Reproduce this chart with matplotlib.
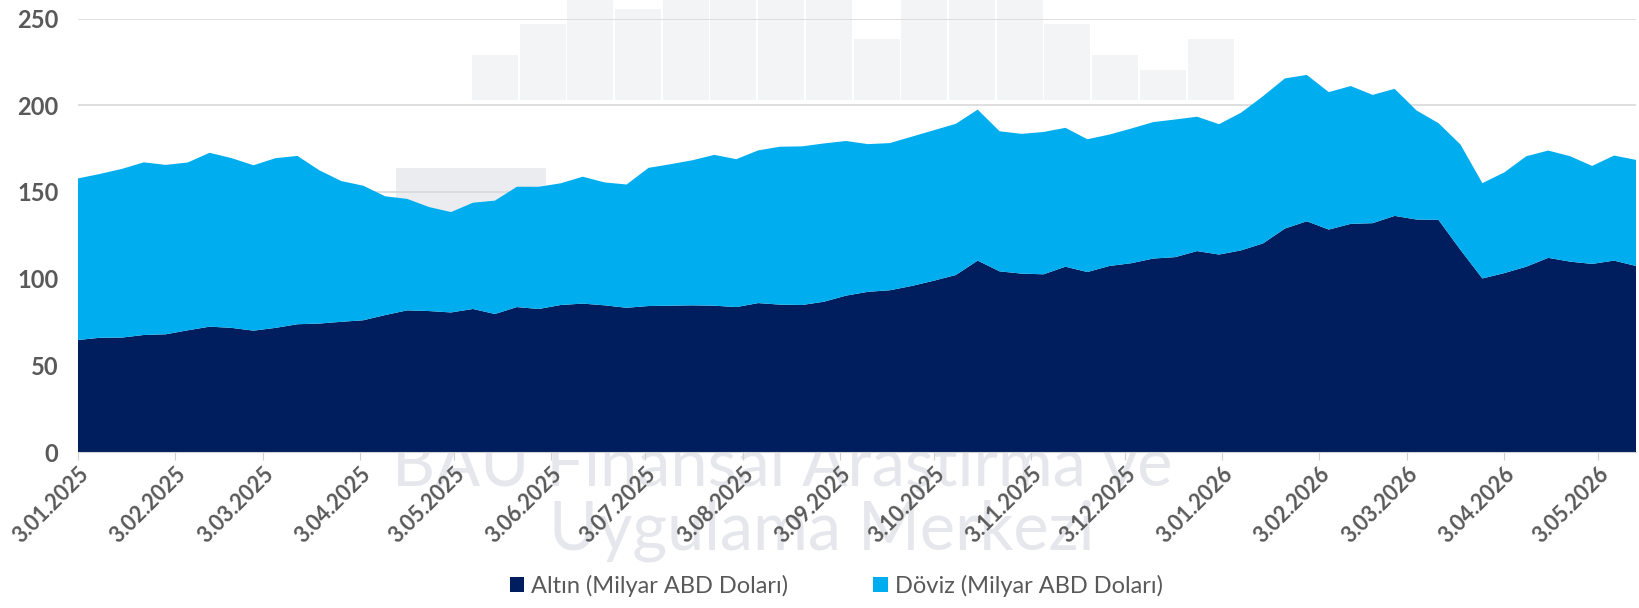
import matplotlib
matplotlib.use("Agg")
import matplotlib.pyplot as plt
import matplotlib.dates as mdates
from matplotlib.patches import Rectangle
import pandas as pd

# haftalık rezerv verisi (milyar ABD doları)
dates = pd.date_range("2025-01-03", periods=72, freq="7D")
altin = [64.6, 65.9, 66.0, 67.5, 67.9, 70.2, 72.3, 71.6, 70.0, 71.6,
         73.7, 74.1, 75.1, 76.0, 79.0, 81.7, 81.3, 80.5, 82.5, 79.6,
         83.6, 82.5, 84.8, 85.6, 84.6, 83.2, 84.2, 84.4, 84.6, 84.4,
         83.6, 85.9, 85.0, 84.8, 86.7, 90.2, 92.4, 93.3, 95.8, 98.8,
         102.1, 110.4, 104.2, 102.9, 102.5, 106.9, 103.8, 107.3, 108.9, 111.6,
         112.4, 115.9, 113.9, 116.3, 120.3, 128.9, 133.1, 128.3, 131.6, 132.0,
         136.2, 134.1, 133.9, 116.6, 100.1, 103.2, 106.9, 112.0, 109.8, 108.5,
         110.4, 107.3]
doviz = [93.2, 94.5, 97.3, 99.6, 97.7, 96.8, 100.3, 97.9, 95.4, 97.9,
         97.1, 88.4, 81.2, 77.6, 68.5, 64.3, 60.0, 57.9, 61.3, 65.4,
         69.4, 70.5, 70.2, 73.2, 70.9, 71.1, 79.7, 81.6, 83.7, 87.0,
         85.3, 88.1, 91.1, 91.5, 91.3, 89.2, 85.2, 84.9, 86.1, 86.8,
         87.2, 87.1, 80.8, 80.6, 82.1, 80.1, 76.6, 75.8, 77.7, 78.7,
         79.4, 77.5, 75.2, 79.4, 84.9, 86.6, 84.4, 79.3, 79.5, 74.0,
         73.3, 62.9, 55.8, 60.8, 55.0, 58.1, 63.7, 61.9, 60.8, 56.5,
         60.6, 61.2]
labels = ["Altın (Milyar ABD Doları)", "Döviz (Milyar ABD Doları)"]
colors = ["#001E5E", "#00AEEF"]

plt.rcParams["font.family"] = ["Lato", "DejaVu Sans"]
plt.rcParams["font.weight"] = "bold"
grey = "#595959"
W, H = 1640, 608

fig = plt.figure(figsize=(16.4, 6.08), dpi=100)
ax = fig.add_axes([78 / W, 1 - 452 / H, (1636 - 78) / W, (452 - 18.6) / H])
ax.set_zorder(2)
ax.set_facecolor("none")

# filigran (logo çubukları + yazı)
logo_tops = [55, 24, -5, 9, -5, -5, -5, -5, 39, -5, -5, -5, 24, 55, 70, 39]
for k, top in enumerate(logo_tops):
    x0 = 472 + k * 47.7
    fig.add_artist(Rectangle((x0 / W, 1 - 100 / H), 46 / W, (100 - top) / H,
                             transform=fig.transFigure, color="#f3f4f6",
                             zorder=0, lw=0))
fig.add_artist(Rectangle((396 / W, 1 - 212 / H), 150 / W, 44 / H,
                         transform=fig.transFigure, color="#ebecef",
                         zorder=0, lw=0))
fig.text(392 / W, 1 - 485 / H, "BAU Finansal Araştırma ve", fontsize=48,
         fontweight="normal", color="#e6e7ec", zorder=0)
fig.text(549 / W, 1 - 550 / H, "Uygulama Merkezi", fontsize=48,
         fontweight="normal", color="#e6e7ec", zorder=0)

ax.stackplot(dates, altin, doviz, colors=colors, labels=labels,
             linewidth=0, zorder=2)

ax.set_ylim(0, 250)
ax.set_yticks(range(0, 251, 50))
ax.set_xlim(dates[0], dates[-1])
ax.xaxis.set_major_locator(mdates.MonthLocator(bymonthday=3))


def date_label(v, pos):
    d = mdates.num2date(v)
    return f"{d.day}.{d.month:02d}.{d.year}"


ax.xaxis.set_major_formatter(plt.FuncFormatter(date_label))

ax.grid(axis="y", color="#d9d9d9", linewidth=1.2, zorder=0)
ax.set_axisbelow(True)
for s in ["left", "right", "top"]:
    ax.spines[s].set_visible(False)
ax.spines["bottom"].set_color("#d0d0d0")
ax.spines["bottom"].set_zorder(3)

ax.tick_params(axis="y", length=0, labelsize=17, labelcolor=grey, pad=14)
ax.tick_params(axis="x", length=6, color="#d0d0d0", labelsize=15.5,
               labelcolor=grey, pad=2, labelrotation=45)
for t in ax.get_xticklabels():
    t.set_ha("right")
    t.set_rotation_mode("anchor")

fig.legend(loc="center", bbox_to_anchor=(0.51, 0.036), ncol=2, frameon=False,
           prop={"size": 17, "weight": "normal"}, labelcolor=grey,
           handlelength=0.6, handleheight=0.6, handletextpad=0.3,
           columnspacing=3.6)

fig.savefig("out.png", dpi=100)
